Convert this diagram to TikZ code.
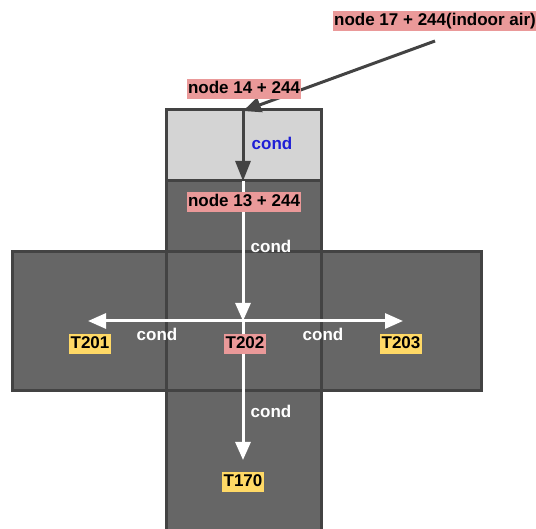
\documentclass[tikz,border=0pt]{standalone}
\usepackage{fontspec}
\setmainfont{Liberation Sans}
\usetikzlibrary{arrows.meta}
\definecolor{cellgray}{HTML}{666666}
\definecolor{lightcell}{HTML}{D4D4D4}
\definecolor{edgegray}{HTML}{434343}
\definecolor{tagpink}{HTML}{EA9999}
\definecolor{tagyellow}{HTML}{FFD966}
\definecolor{condblue}{HTML}{1F1FD6}

\begin{document}
\begin{tikzpicture}
[x=1pt,y=-1pt,%
  every node/.style={font=\fontsize{17}{19}\selectfont\bfseries,inner xsep=1.5pt,inner ysep=2.5pt,text height=12.5pt,text depth=3pt},
  cell/.style={fill=cellgray,draw=edgegray,line width=3pt},
  lightbox/.style={fill=lightcell,draw=edgegray,line width=3pt},
  tag/.style={fill=tagpink,text=black},
  temp/.style={fill=tagyellow,text=black},
  cond/.style={text=white,inner sep=0pt},
  darkflow/.style={draw=edgegray,line width=3pt,-{Triangle[length=18pt,width=15pt]}},
  heatflow/.style={draw=white,line width=3pt,-{Triangle[length=18pt,width=15pt]}}]
\useasboundingbox (0,0) rectangle (536,529);
% cells
\draw[lightbox] (166,110) rectangle (321,181);
\draw[cell] (166,181) rectangle (321,252);
\draw[cell] (12,252) rectangle (166,391);
\draw[cell] (321,252) rectangle (481,391);
\draw[cell] (166,252) rectangle (321,391);
\draw[cell] (166,391) rectangle (321,533);
% ends of the flows
\coordinate (src17) at (435,41);
\coordinate (in14) at (243,111);
\coordinate (top13) at (243,181);
\coordinate (mid) at (243,321);
\coordinate (left) at (88,321);
\coordinate (right) at (403,321);
\coordinate (down) at (243,460);
\draw[darkflow] (src17) -- (in14);
\draw[darkflow,-{Triangle[length=20pt,width=15pt]}] (in14) -- (top13);
\draw[heatflow] (top13) -- (mid);
\draw[heatflow] (mid) -- (left);
\draw[heatflow] (mid) -- (right);
\draw[heatflow] (mid) -- (down);
% labels
\node[tag] (n17) at (435,21) {node 17 + 244(indoor air)};
\node[tag] (n14) at (244,89) {node 14 + 244};
\node[cond,text=condblue] (c14) at (272,145) {cond};
\node[tag] (n13) at (244,202) {node 13 + 244};
\node[cond] (c13) at (271,248) {cond};
\node[temp] (t201) at (90,344) {T201};
\node[cond] (cl) at (157,336) {cond};
\node[tag] (t202) at (245,344) {T202};
\node[cond] (cr) at (323,336) {cond};
\node[temp] (t203) at (401,344) {T203};
\node[cond] (cb) at (271,413) {cond};
\node[temp] (t170) at (243,482) {T170};
\end{tikzpicture}
\end{document}
